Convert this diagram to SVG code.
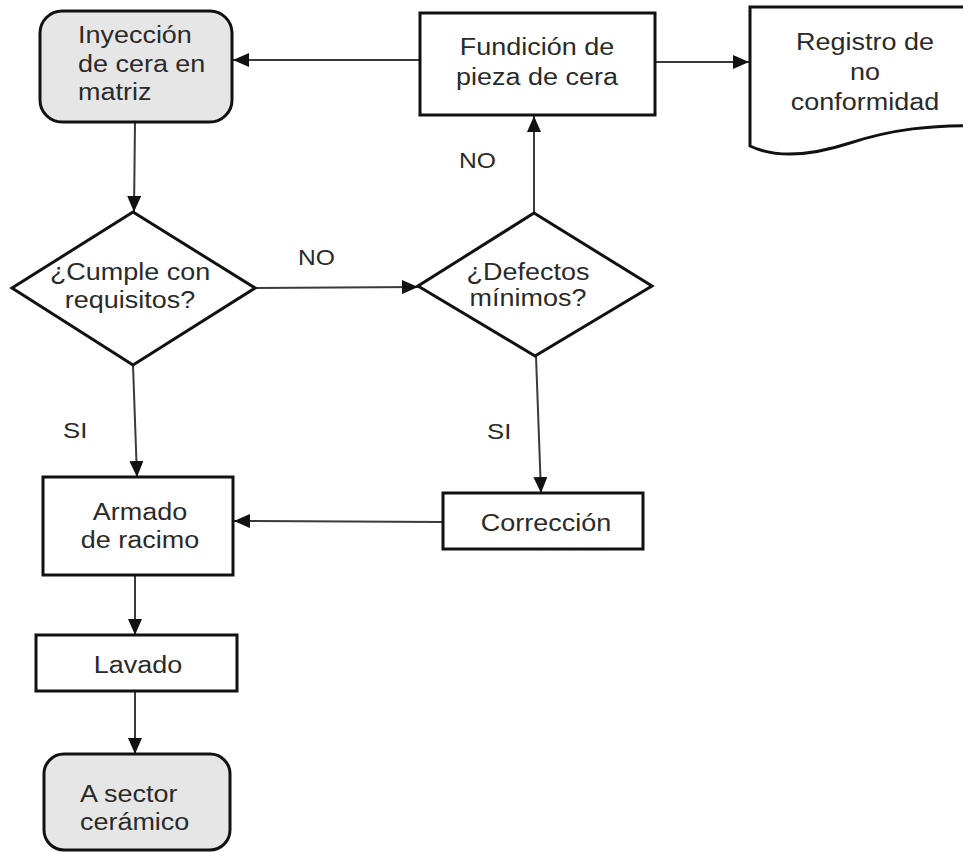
<svg xmlns="http://www.w3.org/2000/svg" width="963" height="852" viewBox="0 0 963 852">
  <defs>
    <marker id="arrow" viewBox="0 0 16 14" refX="16" refY="7" markerWidth="16" markerHeight="14" markerUnits="userSpaceOnUse" orient="auto">
      <path d="M0,0 L16,7 L0,14 Z" fill="#111"/>
    </marker>
    <style>
      .shape { fill: #ffffff; stroke: #111; stroke-width: 3; }
      .term { fill: #e6e6e6; stroke: #111; stroke-width: 3; }
      .edge { fill: none; stroke: #3a3a3a; stroke-width: 2; marker-end: url(#arrow); }
      .txt { font-family: "Liberation Sans", Arial, sans-serif; font-size: 24.5px; fill: #2a2a2a; }
      .c { text-anchor: middle; }
      .lbl { font-family: "Liberation Sans", Arial, sans-serif; font-size: 22px; fill: #2a2a2a; }
    </style>
  </defs>
  <rect width="963" height="852" fill="#ffffff"/>

  <!-- connectors and their labels -->
  <g id="connectors">
    <line class="edge" x1="420" y1="60" x2="233" y2="60"/>
    <line class="edge" x1="655" y1="62" x2="749" y2="62"/>
    <line class="edge" x1="135" y1="122" x2="134" y2="212"/>
    <line class="edge" x1="255" y1="288" x2="418" y2="287"/>
    <line class="edge" x1="534" y1="213" x2="534" y2="116"/>
    <line class="edge" x1="133" y1="365" x2="137" y2="477"/>
    <line class="edge" x1="536" y1="356" x2="541" y2="493"/>
    <line class="edge" x1="443" y1="522" x2="234" y2="521"/>
    <line class="edge" x1="135" y1="575" x2="135" y2="635"/>
    <line class="edge" x1="135" y1="691" x2="135" y2="754"/>
    <text class="lbl" transform="translate(459 0) scale(1.12 1)" x="0" y="168">NO</text>
    <text class="lbl" transform="translate(298 0) scale(1.12 1)" x="0" y="265">NO</text>
    <text class="lbl" transform="translate(63 0) scale(1.12 1)" x="0" y="438" style="font-size:23px">SI</text>
    <text class="lbl" transform="translate(487 0) scale(1.12 1)" x="0" y="439" style="font-size:23px">SI</text>
  </g>

  <g id="inyeccion">
    <rect class="term" x="40" y="11" width="192" height="111" rx="22"/>
    <g class="txt" transform="translate(78 0) scale(1.1 1)">
      <text x="0" y="43">Inyección</text>
      <text x="0" y="72">de cera en</text>
      <text x="0" y="100">matriz</text>
    </g>
  </g>

  <g id="fundicion">
    <rect class="shape" x="420" y="13" width="235" height="102"/>
    <g class="txt c" transform="translate(537 0) scale(1.1 1)">
      <text x="0" y="55">Fundición de</text>
      <text x="0" y="85">pieza de cera</text>
    </g>
  </g>

  <g id="registro">
    <path class="shape" d="M750,7 L990,7 L990,126 C930,124 890,130 850,143 C810,156 775,158 750,146 Z"/>
    <g class="txt c" transform="translate(865 0) scale(1.1 1)">
      <text x="0" y="50">Registro de</text>
      <text x="0" y="80">no</text>
      <text x="0" y="110">conformidad</text>
    </g>
  </g>

  <g id="cumple">
    <path class="shape" d="M133,212 L255,288 L133,365 L12,288 Z"/>
    <g class="txt c" transform="translate(130 0) scale(1.1 1)">
      <text x="0" y="280">¿Cumple con</text>
      <text x="0" y="308">requisitos?</text>
    </g>
  </g>

  <g id="defectos">
    <path class="shape" d="M534,213 L652,286 L535,356 L418,286 Z"/>
    <g class="txt c" transform="translate(528 0) scale(1.1 1)">
      <text x="0" y="280">¿Defectos</text>
      <text x="0" y="306">mínimos?</text>
    </g>
  </g>

  <g id="armado">
    <rect class="shape" x="43" y="477" width="190" height="98"/>
    <g class="txt c" transform="translate(140 0) scale(1.1 1)">
      <text x="0" y="520">Armado</text>
      <text x="0" y="548">de racimo</text>
    </g>
  </g>

  <g id="correccion">
    <rect class="shape" x="443" y="493" width="200" height="56"/>
    <text class="txt c" transform="translate(546 0) scale(1.1 1)" x="0" y="531">Corrección</text>
  </g>

  <g id="lavado">
    <rect class="shape" x="36" y="635" width="201" height="56"/>
    <text class="txt c" transform="translate(138 0) scale(1.1 1)" x="0" y="673">Lavado</text>
  </g>

  <g id="sector">
    <rect class="term" x="44" y="754" width="186" height="96" rx="20"/>
    <g class="txt" transform="translate(80 0) scale(1.1 1)">
      <text x="0" y="802">A sector</text>
      <text x="0" y="830">cerámico</text>
    </g>
  </g>
</svg>
